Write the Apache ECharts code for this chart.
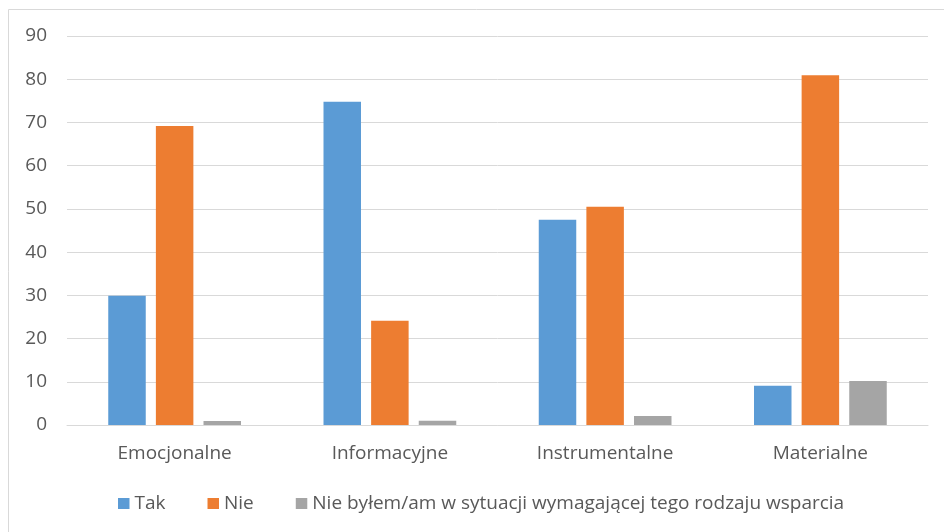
<!DOCTYPE html>
<html>
<head>
<meta charset="utf-8">
<script src="https://cdn.jsdelivr.net/npm/echarts@6/dist/echarts.min.js"></script>
<style>
html,body{margin:0;padding:0;background:#fff;}
#chart{width:944px;height:532px;}
</style>
</head>
<body>
<div id="chart"></div>
<script>
const categories = ['Emocjonalne', 'Informacyjne', 'Instrumentalne', 'Materialne'];
const seriesNames = ['Tak', 'Nie', 'Nie byłem/am w sytuacji wymagającej tego rodzaju wsparcia'];
const takValues = [29.9, 74.8, 47.5, 9.1];
const nieValues = [69.2, 24.1, 50.5, 80.9];
const nieByłemValues = [0.9, 1.0, 2.1, 10.2];
const yTicks = [0, 10, 20, 30, 40, 50, 60, 70, 80, 90];

const colors = ['#5B9BD5', '#ED7D31', '#A5A5A5'];
const font = '"Open Sans", sans-serif';
const chart = echarts.init(document.getElementById('chart'), null, {renderer: 'canvas'});
const mk = (name, data, color) => ({
  name, type: 'bar', data,
  barWidth: 37.5, barGap: '27%',
  itemStyle: {color},
  emphasis: {disabled: true}
});
chart.setOption({
  animation: false,
  color: colors,
  graphic: [{
    type: 'rect', shape: {x: 8.5, y: 9.5, width: 960, height: 560},
    style: {fill: 'none', stroke: '#D9D9D9', lineWidth: 1}, silent: true
  }],
  grid: {left: 67, right: 16, top: 36, bottom: 107, containLabel: false},
  legend: {
    left: 118, top: 494, padding: 0,
    itemWidth: 11.5, itemHeight: 11, itemGap: 42,
    icon: 'rect',
    textStyle: {color: '#595959', fontSize: 19, fontFamily: font},
    data: seriesNames
  },
  xAxis: {
    type: 'category', data: categories,
    axisLine: {lineStyle: {color: '#D9D9D9', width: 1}},
    axisTick: {show: false},
    axisLabel: {color: '#595959', fontSize: 19, fontFamily: font, margin: 19}
  },
  yAxis: {
    type: 'value', min: yTicks[0], max: yTicks[yTicks.length - 1], interval: 10,
    axisLine: {show: false}, axisTick: {show: false},
    axisLabel: {color: '#595959', fontSize: 19, fontFamily: font, margin: 20},
    splitLine: {lineStyle: {color: '#D9D9D9', width: 1}}
  },
  series: [
    mk(seriesNames[0], takValues, colors[0]),
    mk(seriesNames[1], nieValues, colors[1]),
    mk(seriesNames[2], nieByłemValues, colors[2])
  ]
});
</script>
</body>
</html>
